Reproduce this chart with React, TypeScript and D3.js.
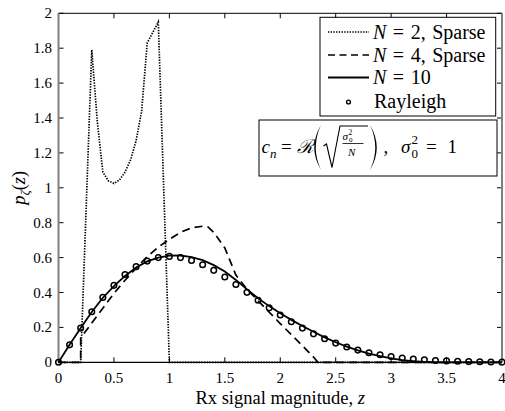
import React from 'react';
import * as d3 from 'd3';

const W = 505;
const H = 411;

const xTicks = [0, 0.5, 1, 1.5, 2, 2.5, 3, 3.5, 4];
const xTickLabels = ['0', '0.5', '1', '1.5', '2', '2.5', '3', '3.5', '4'];
const yTicks = [0, 0.2, 0.4, 0.6, 0.8, 1, 1.2, 1.4, 1.6, 1.8, 2];
const yTickLabels = ['0', '0.2', '0.4', '0.6', '0.8', '1', '1.2', '1.4', '1.6', '1.8', '2'];

// N = 2, Sparse (dotted)
const n2Z = [0, 0.1, 0.2, 0.3, 0.35, 0.4, 0.45, 0.5, 0.55, 0.6, 0.65, 0.7, 0.75, 0.8, 0.85, 0.9, 1.0, 1.5, 2, 2.5, 3, 3.5, 4];
const n2P = [0, 0, 0, 1.79, 1.38, 1.09, 1.04, 1.025, 1.045, 1.09, 1.16, 1.27, 1.44, 1.83, 1.89, 1.95, 0, 0, 0, 0, 0, 0, 0];

// N = 4, Sparse (dashed)
const n4Z = [0, 0.1, 0.2, 0.2, 0.3, 0.4, 0.5, 0.6, 0.7, 0.8, 0.9, 1.0, 1.1, 1.2, 1.3, 1.35, 1.4, 1.5, 1.6, 1.7, 1.8, 1.9, 2.0, 2.1, 2.2, 2.3, 2.34, 3, 4];
const n4P = [0, 0, 0, 0.14, 0.225, 0.31, 0.395, 0.47, 0.54, 0.605, 0.66, 0.705, 0.745, 0.77, 0.78, 0.775, 0.745, 0.655, 0.5, 0.418, 0.353, 0.288, 0.222, 0.158, 0.095, 0.03, 0, 0, 0];

// N = 10 (solid)
const n10Z = [0, 0.1, 0.2, 0.3, 0.4, 0.5, 0.6, 0.7, 0.8, 0.9, 1.0, 1.1, 1.2, 1.3, 1.4, 1.5, 1.6, 1.7, 1.8, 1.9, 2.0, 2.1, 2.2, 2.3, 2.4, 2.5, 2.6, 2.7, 2.8, 2.9, 3.0, 3.1, 3.2, 3.3, 3.4, 4.0];
const n10P = [0, 0.1, 0.197, 0.288, 0.37, 0.437, 0.495, 0.543, 0.578, 0.6, 0.611, 0.612, 0.603, 0.585, 0.557, 0.52, 0.472, 0.418, 0.367, 0.322, 0.281, 0.243, 0.208, 0.175, 0.143, 0.115, 0.09, 0.068, 0.05, 0.036, 0.023, 0.013, 0.006, 0.002, 0, 0];

// Rayleigh (circles)
const rayZ = [0, 0.1, 0.2, 0.3, 0.4, 0.5, 0.6, 0.7, 0.8, 0.9, 1.0, 1.1, 1.2, 1.3, 1.4, 1.5, 1.6, 1.7, 1.8, 1.9, 2.0, 2.1, 2.2, 2.3, 2.4, 2.5, 2.6, 2.7, 2.8, 2.9, 3.0, 3.1, 3.2, 3.3, 3.4, 3.5, 3.6, 3.7, 3.8, 3.9, 4.0];
const rayP = [0, 0.1, 0.196, 0.29, 0.372, 0.441, 0.503, 0.548, 0.58, 0.6, 0.607, 0.6, 0.584, 0.559, 0.527, 0.489, 0.446, 0.401, 0.356, 0.312, 0.271, 0.232, 0.196, 0.163, 0.135, 0.11, 0.088, 0.07, 0.055, 0.043, 0.033, 0.025, 0.019, 0.014, 0.01, 0.008, 0.006, 0.004, 0.003, 0.002, 0.001];

const legendN = ['2,', '4,', '10'];
const legendTail = ['Sparse', 'Sparse', ''];
const rayleighLabel = 'Rayleigh';

const TS = { fontFamily: 'Liberation Serif' };
const CSS = 'svg text, svg tspan { font-family: "Liberation Serif" !important; }';

export default function App() {
  const x = d3.scaleLinear().domain([0, 4]).range([58.5, 502]);
  const y = d3.scaleLinear().domain([0, 2]).range([362.3, 13.3]);
  const [x0, x1] = x.range();
  const [y0, y1] = y.range();

  const line = d3
    .line<[number, number]>()
    .x((d) => x(d[0]))
    .y((d) => y(d[1]));
  const zip = (a: number[], b: number[]) => a.map((v, i) => [v, b[i]] as [number, number]);

  const dotted = { stroke: '#000', strokeWidth: 1.7, strokeDasharray: '1.4,1.3', fill: 'none' };
  const dashed = { stroke: '#000', strokeWidth: 1.7, strokeDasharray: '8,5', fill: 'none' };
  const solid = { stroke: '#000', strokeWidth: 1.8, fill: 'none' };

  const lgX0 = 328;
  const lgX1 = 369;
  const lgRows = [32, 55, 77.5, 101];

  return (
    <svg width={W} height={H} style={{ position: 'absolute', left: 0, top: 0, background: '#fff' }}>
      <style>{CSS}</style>
      <rect x={0} y={0} width={W} height={H} fill="#fff" />
      {/* ticks */}
      {xTicks.map((t, i) => (
        <g key={'xt' + i}>
          <line x1={x(t)} x2={x(t)} y1={y0} y2={y0 - 5} stroke="#000" strokeWidth={1} />
          <line x1={x(t)} x2={x(t)} y1={y1} y2={y1 + 5} stroke="#000" strokeWidth={1} />
          <text style={TS} x={x(t)} y={383} fontSize={15} textAnchor="middle">
            {xTickLabels[i]}
          </text>
        </g>
      ))}
      {yTicks.map((t, i) => (
        <g key={'yt' + i}>
          <line x1={x0} x2={x0 + 5} y1={y(t)} y2={y(t)} stroke="#000" strokeWidth={1} />
          <line x1={x1} x2={x1 - 5} y1={y(t)} y2={y(t)} stroke="#000" strokeWidth={1} />
          <text style={TS} x={52} y={y(t) + 5} fontSize={15} textAnchor="end">
            {yTickLabels[i]}
          </text>
        </g>
      ))}
      {/* axes box */}
      <line x1={x0} x2={x1} y1={y1} y2={y1} stroke="#000" strokeWidth={1} />
      <line x1={x0} x2={x1} y1={y0} y2={y0} stroke="#000" strokeWidth={1.2} />
      <line x1={x0} x2={x0} y1={y0} y2={y1} stroke="#808080" strokeWidth={2} />
      <line x1={x1} x2={x1} y1={y0} y2={y1} stroke="#808080" strokeWidth={2} />

      {/* data */}
      <path d={line(zip(n2Z, n2P)) || ''} {...dotted} />
      <path d={line(zip(n4Z, n4P)) || ''} {...dashed} />
      <path d={line(zip(n10Z, n10P)) || ''} {...solid} />
      {rayZ.map((z, i) => (
        <circle key={'c' + i} cx={x(z)} cy={y(rayP[i])} r={2.8} fill="none" stroke="#000" strokeWidth={1.5} />
      ))}

      {/* legend */}
      <rect x={320} y={17.3} width={175.7} height={98.7} fill="#fff" stroke="#000" strokeWidth={1} />
      <line x1={lgX0} x2={lgX1} y1={lgRows[0]} y2={lgRows[0]} {...dotted} />
      <line x1={lgX0} x2={lgX1} y1={lgRows[1]} y2={lgRows[1]} {...dashed} strokeDasharray="7,4.5" />
      <line x1={lgX0} x2={lgX1} y1={lgRows[2]} y2={lgRows[2]} {...solid} />
      <circle cx={348.5} cy={lgRows[3] + 1} r={1.9} fill="none" stroke="#000" strokeWidth={1.4} />
      {legendN.map((lab, i) => (
        <text style={TS} key={'lg' + i} x={373} y={lgRows[i] + 6.5} fontSize={20}>
          <tspan fontStyle="italic">N</tspan>
          <tspan dx={6.5}>=</tspan>
          <tspan dx={6.5}>{lab}</tspan>
          {legendTail[i] ? <tspan dx={6.5}>{legendTail[i]}</tspan> : null}
        </text>
      ))}
      <text style={TS} x={374} y={lgRows[3] + 6.5} fontSize={20}>
        {rayleighLabel}
      </text>

      {/* formula box */}
      <rect x={259} y={120} width={238} height={56} fill="#fff" stroke="#000" strokeWidth={1} />
      <text style={TS} x={261.5} y={153} fontSize={19} fontStyle="italic">c</text>
      <text style={TS} x={270} y={157.5} fontSize={13} fontStyle="italic">n</text>
      <text style={TS} x={281} y={153} fontSize={19}>=</text>
      <text style={TS} x={296.5} y={153} fontSize={19} fontStyle="italic">ℛ</text>
      <path d="M321,125 Q307.5,147.5 321,170 Q310.5,147.5 321,125 Z" fill="#000" />
      <path d="M323.5,146 L326.5,144 L332,167.5 L340,126 L368,126" fill="none" stroke="#000" strokeWidth={1.1} />
      <text style={TS} x={342.5} y={139.5} fontSize={11} fontStyle="italic">σ</text>
      <text style={TS} x={348.5} y={134.5} fontSize={7.5}>2</text>
      <text style={TS} x={349} y={142} fontSize={7}>0</text>
      <line x1={342.5} x2={363.5} y1={143.5} y2={143.5} stroke="#000" strokeWidth={0.8} />
      <text style={TS} x={348} y={155.5} fontSize={11} fontStyle="italic">N</text>
      <path d="M370,125 Q383.5,147.5 370,170 Q380.5,147.5 370,125 Z" fill="#000" />
      <text style={TS} x={383.5} y={153} fontSize={19}>,</text>
      <text style={TS} x={401} y={153} fontSize={19} fontStyle="italic">σ</text>
      <text style={TS} x={411.5} y={158} fontSize={13}>0</text>
      <text style={TS} x={411.5} y={143.5} fontSize={13}>2</text>
      <text style={TS} x={426} y={153} fontSize={19}>=</text>
      <text style={TS} x={447.5} y={153} fontSize={19}>1</text>

      {/* axis labels */}
      <text style={TS} x={(x0 + x1) / 2} y={404} fontSize={18.5} textAnchor="middle">
        Rx signal magnitude, <tspan fontStyle="italic">z</tspan>
      </text>
      <text style={TS} transform={`translate(25,${(y0 + y1) / 2}) rotate(-90)`} fontSize={18.5} textAnchor="middle">
        <tspan fontStyle="italic">p</tspan>
        <tspan fontStyle="italic" fontSize={13} dy={4}>ζ</tspan>
        <tspan dy={-4}>(</tspan>
        <tspan fontStyle="italic">z</tspan>
        <tspan>)</tspan>
      </text>
    </svg>
  );
}
